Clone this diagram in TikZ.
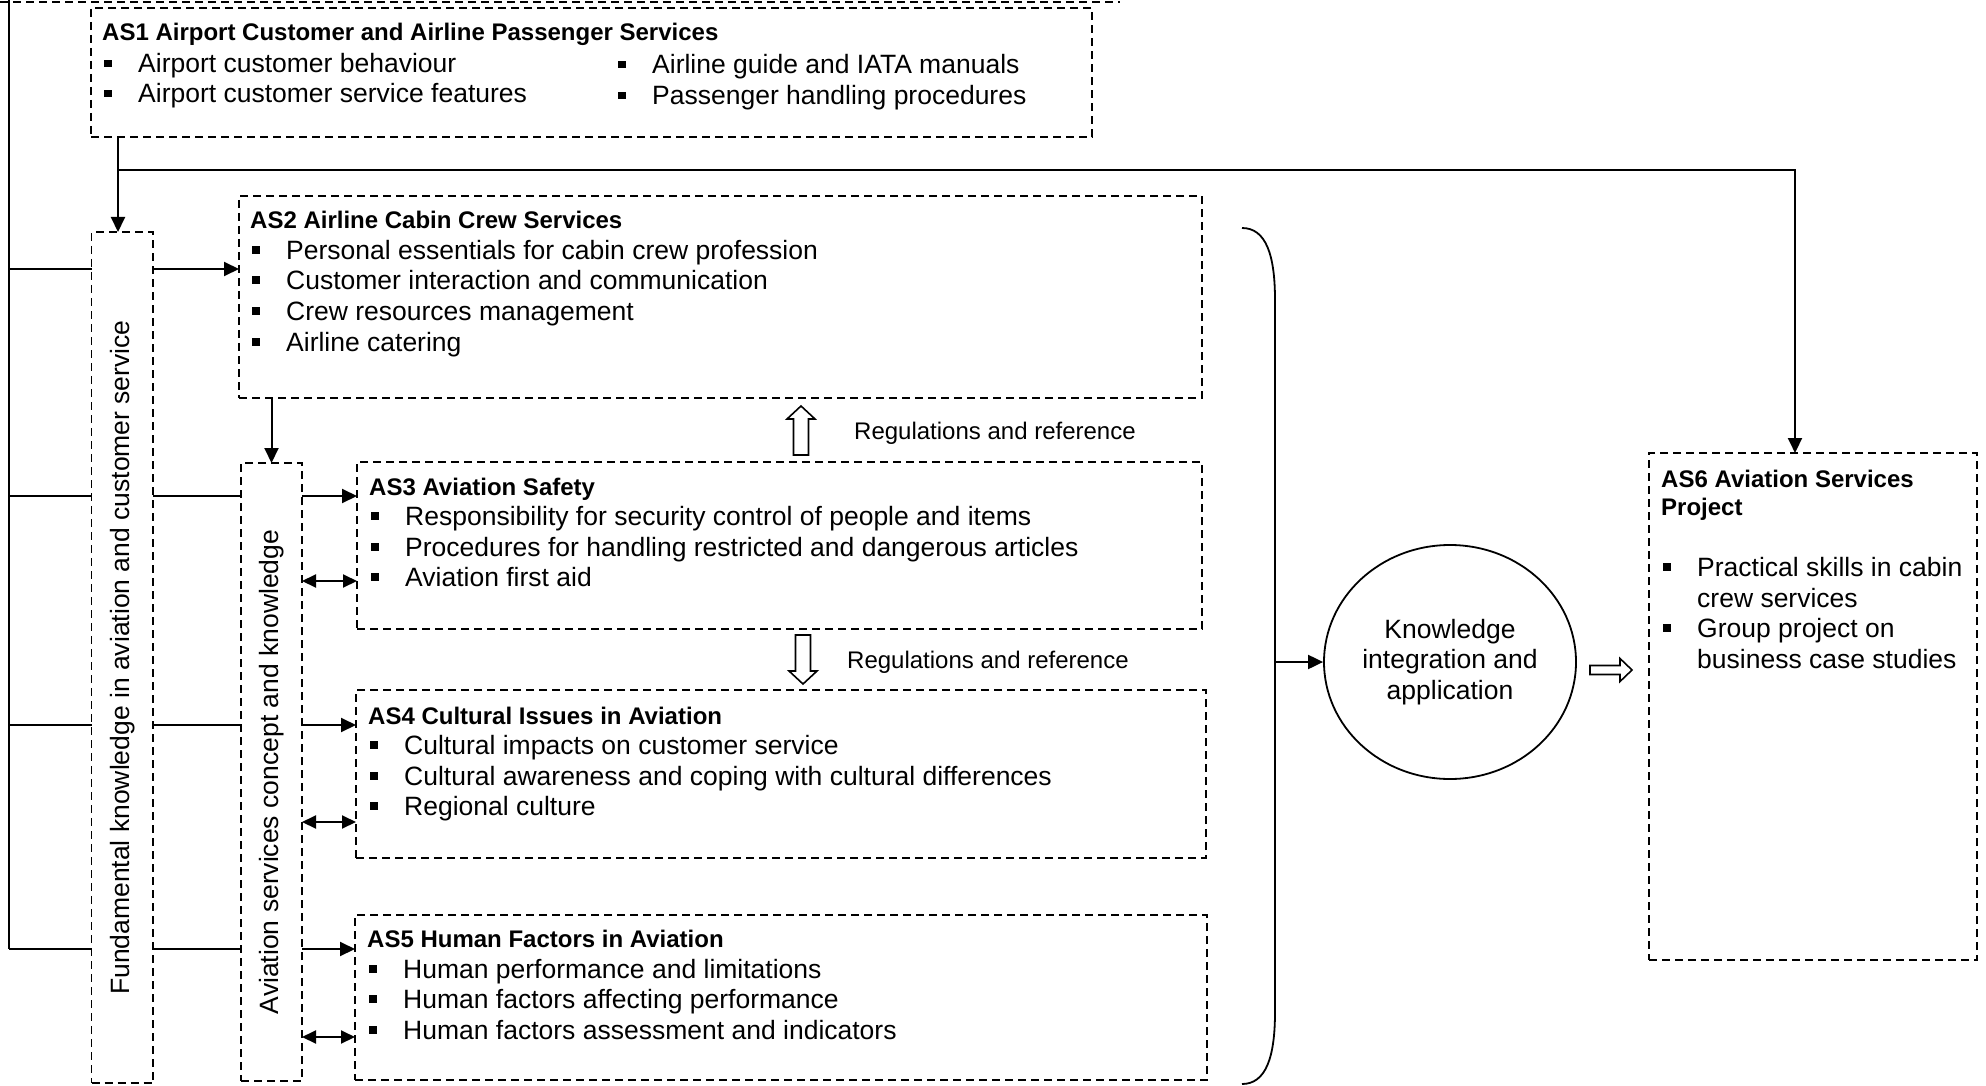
\documentclass[tikz,border=0pt]{standalone}
\usepackage{fontspec}
\setmainfont{Liberation Sans}
\usetikzlibrary{arrows.meta,shapes.geometric}
% bullet item: small black square followed by the text
\newcommand{\bitem}[1]{\makebox[34pt][l]{\rule[5.5pt]{7.5pt}{7.5pt}}#1}
\begin{document}
\begin{tikzpicture}[x=1pt,y=-1pt,
  dbox/.style={draw, line width=1.8pt, dash pattern=on 8pt off 5pt, inner sep=0pt, outer sep=0pt, anchor=north west},
  dline/.style={line width=1.8pt, dash pattern=on 8pt off 5pt},
  conn/.style={line width=2pt},
  arr/.style={conn, -{Triangle[length=15pt,width=14pt]}},
  darr/.style={conn, {Triangle[length=14pt,width=13pt]}-{Triangle[length=14pt,width=13pt]}},
  hol/.style={draw, line width=1.6pt, fill=white, line join=miter},
  ttl/.style={anchor=base west, inner sep=0pt, font=\fontsize{24}{28}\selectfont\bfseries},
  itm/.style={anchor=base west, inner sep=0pt, font=\fontsize{26.5}{30.4}\selectfont},
  lbl/.style={anchor=base west, inner sep=0pt, font=\fontsize{24}{28}\selectfont},
  vtxt/.style={rotate=90, inner sep=0pt, font=\fontsize{26.5}{30.4}\selectfont},
]
\useasboundingbox (0,0) rectangle (1986,1086);

% ---------- boxes ----------
\node[dbox, minimum width=1001pt, minimum height=129pt] (as1) at (91,8) {};
\node[dbox, minimum width=61.5pt, minimum height=851pt] (fund) at (91.5,232) {};
\node[dbox, minimum width=963pt, minimum height=202pt] (as2) at (239,196) {};
\node[dbox, minimum width=61pt, minimum height=618pt] (asc) at (241,463) {};
\node[dbox, minimum width=845pt, minimum height=167pt] (as3) at (357,462) {};
\node[dbox, minimum width=850pt, minimum height=168pt] (as4) at (356,690) {};
\node[dbox, minimum width=852pt, minimum height=165pt] (as5) at (355,915) {};
\node[dbox, minimum width=328pt, minimum height=507pt] (as6) at (1649,453) {};
\node[draw, ellipse, line width=1.8pt, minimum width=252pt, minimum height=234pt,
      inner sep=0pt, align=center, font=\fontsize{26.5}{30.5}\selectfont]
      (ki) at (1450,662) {Knowledge\\integration and\\application};

% ---------- vertical labels ----------
\node[vtxt] (fundt) at (fund.center) {Fundamental knowledge in aviation and customer service};
\node[vtxt] (asct) at (asc.center) {Aviation services concept and knowledge};

% ---------- AS1 ----------
\node[ttl] (as1t) at (102,41) {AS1 Airport Customer and Airline Passenger Services};
\node[itm] (as1a) at (104,73) {\bitem{Airport customer behaviour}};
\node[itm] (as1b) at (104,103) {\bitem{Airport customer service features}};
\node[itm] (as1c) at (618,74) {\bitem{Airline guide and IATA manuals}};
\node[itm] (as1d) at (618,105) {\bitem{Passenger handling procedures}};

% ---------- AS2 ----------
\node[ttl] (as2t) at (250,229) {AS2 Airline Cabin Crew Services};
\node[itm] (as2a) at (252,259) {\bitem{Personal essentials for cabin crew profession}};
\node[itm] (as2b) at (252,289) {\bitem{Customer interaction and communication}};
\node[itm] (as2c) at (252,320) {\bitem{Crew resources management}};
\node[itm] (as2d) at (252,351) {\bitem{Airline catering}};

% ---------- AS3 ----------
\node[ttl] (as3t) at (369,495) {AS3 Aviation Safety};
\node[itm] (as3a) at (371,525) {\bitem{Responsibility for security control of people and items}};
\node[itm] (as3b) at (371,556) {\bitem{Procedures for handling restricted and dangerous articles}};
\node[itm] (as3c) at (371,586) {\bitem{Aviation first aid}};

% ---------- AS4 ----------
\node[ttl] (as4t) at (368,724) {AS4 Cultural Issues in Aviation};
\node[itm] (as4a) at (370,754) {\bitem{Cultural impacts on customer service}};
\node[itm] (as4b) at (370,785) {\bitem{Cultural awareness and coping with cultural differences}};
\node[itm] (as4c) at (370,815) {\bitem{Regional culture}};

% ---------- AS5 ----------
\node[ttl] (as5t) at (367,947) {AS5 Human Factors in Aviation};
\node[itm] (as5a) at (369,978) {\bitem{Human performance and limitations}};
\node[itm] (as5b) at (369,1008) {\bitem{Human factors affecting performance}};
\node[itm] (as5c) at (369,1039) {\bitem{Human factors assessment and indicators}};

% ---------- AS6 ----------
\node[ttl] (as6t) at (1661,487) {AS6 Aviation Services};
\node[ttl] (as6u) at (1661,515) {Project};
\node[itm] (as6a) at (1663,576) {\bitem{Practical skills in cabin}};
\node[itm] (as6b) at (1697,607) {crew services};
\node[itm] (as6c) at (1663,637) {\bitem{Group project on}};
\node[itm] (as6d) at (1697,668) {business case studies};

% ---------- regulation labels and hollow arrows ----------
\node[lbl] (reg1) at (854,439) {Regulations and reference};
\node[lbl] (reg2) at (847,668) {Regulations and reference};
\draw[hol] (793.5,455) -- (793.5,419) -- (787,419) -- (801,406) -- (815,419)
           -- (808.5,419) -- (808.5,455) -- cycle;
\draw[hol] (795.5,635) -- (795.5,671) -- (789,671) -- (803,684) -- (817,671)
           -- (810.5,671) -- (810.5,635) -- cycle;
\draw[hol] (1590,665.5) -- (1620,665.5) -- (1620,658.5) -- (1632,670) -- (1620,681.5)
           -- (1620,674.5) -- (1590,674.5) -- cycle;

% ---------- top frame edge and left bus ----------
\coordinate (tl) at (0,2);
\coordinate (tr) at (1120,2);
\draw[dline] (tl) -- (tr);
\coordinate (bus0) at (9,0);
\coordinate (bus1) at (9,269);
\coordinate (bus2) at (9,496);
\coordinate (bus3) at (9,725);
\coordinate (bus4) at (9,949);
\draw[conn] (bus0) -- (bus4);
\draw[conn] (bus1) -- (bus1 -| fund.west);
\draw[arr] (bus1 -| fund.east) -- (bus1 -| as2.west);
\foreach \b/\t in {bus2/as3, bus3/as4, bus4/as5}{
  \draw[conn] (\b) -- (\b -| fund.west);
  \draw[conn] (\b -| fund.east) -- (\b -| asc.west);
  \draw[arr] (\b -| asc.east) -- (\b -| \t.west);
}

% ---------- double arrows between concept box and modules ----------
\coordinate (d3) at (0,581);
\coordinate (d4) at (0,822);
\coordinate (d5) at (0,1037);
\draw[darr] (d3 -| asc.east) -- (d3 -| as3.west);
\draw[darr] (d4 -| asc.east) -- (d4 -| as4.west);
\draw[darr] (d5 -| asc.east) -- (d5 -| as5.west);

% ---------- AS1 feeds ----------
\coordinate (j1) at (118,170);
\coordinate (j6) at (1795,170);
\draw[arr] (as1.south -| j1) -- (fund.north -| j1);
\draw[arr] (j1) -- (j6) -- (as6.north -| j6);

% ---------- AS2 to concept box ----------
\draw[arr] (as2.south -| asc.north) -- (asc.north);

% ---------- brace and integration ----------
\draw[line width=1.8pt] (1242,228) .. controls (1266,228) and (1275,255) .. (1275,300)
      -- (1275,1012) .. controls (1275,1057) and (1266,1084) .. (1242,1084);
\coordinate (bm) at (1275,662);
\draw[arr] (bm) -- (ki.west);
\end{tikzpicture}
\end{document}
